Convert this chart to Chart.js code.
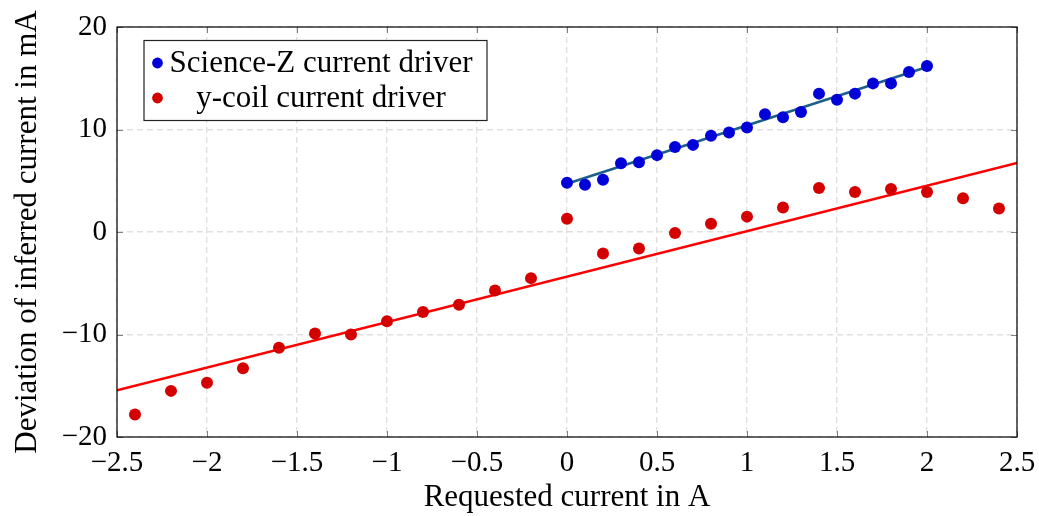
<!DOCTYPE html>
<html>
<head>
<meta charset="utf-8">
<script src="https://cdn.jsdelivr.net/npm/chart.js@4.4.1/dist/chart.umd.min.js"></script>
<style>
  html, body { margin: 0; padding: 0; background: #ffffff; }
  #wrap { width: 1039px; height: 516px; }
</style>
</head>
<body>
<div id="wrap"><canvas id="c" width="1039" height="516"></canvas></div>
<script>
// Tick positions
const xTicks = [-2.5, -2, -1.5, -1, -0.5, 0, 0.5, 1, 1.5, 2, 2.5];
const yTicks = [-20, -10, 0, 10, 20];

// Science-Z current driver: requested current (A) and deviation (mA)
const scienceZCurrent = [0, 0.1, 0.2, 0.3, 0.4, 0.5, 0.6, 0.7, 0.8, 0.9, 1.0,
                         1.1, 1.2, 1.3, 1.4, 1.5, 1.6, 1.7, 1.8, 1.9, 2.0];
const scienceZDeviation = [4.8, 4.6, 5.1, 6.7, 6.8, 7.5, 8.3, 8.5, 9.4, 9.7, 10.2,
                           11.5, 11.2, 11.7, 13.5, 12.9, 13.5, 14.5, 14.5, 15.6, 16.2];

// y-coil current driver: requested current (A) and deviation (mA)
const yCoilCurrent = [-2.4, -2.2, -2.0, -1.8, -1.6, -1.4, -1.2, -1.0, -0.8, -0.6, -0.4, -0.2,
                      0, 0.2, 0.4, 0.6, 0.8, 1.0, 1.2, 1.4, 1.6, 1.8, 2.0, 2.2, 2.4];
const yCoilDeviation = [-17.8, -15.5, -14.7, -13.3, -11.3, -9.9, -10.0, -8.7, -7.8, -7.1, -5.7, -4.5,
                        1.3, -2.1, -1.6, -0.1, 0.8, 1.5, 2.4, 4.3, 3.9, 4.2, 3.9, 3.3, 2.3];

// Linear fits (end points)
const scienceZFitCurrent = [0, 2];
const scienceZFitDeviation = [4.7, 16.1];
const yCoilFitCurrent = [-2.5, 2.5];
const yCoilFitDeviation = [-15.45, 6.73];

const seriesLabels = ['Science-Z current driver', 'y-coil current driver'];

const toPoints = (xs, ys) => xs.map((x, i) => ({ x: x, y: ys[i] }));
const fmt = v => String(v).replace('-', '\u2212');

const FONT = "'Liberation Serif', 'Times New Roman', serif";
Chart.defaults.font.family = FONT;
Chart.defaults.color = '#000000';

// Frame with inward ticks on all four sides, plus the legend box
const framePlugin = {
  id: 'frame',
  afterDatasetsDraw(chart) {
    const { ctx, chartArea: a, scales } = chart;
    const len = 6;
    ctx.save();
    ctx.strokeStyle = '#808080';
    ctx.lineWidth = 1;
    ctx.beginPath();
    xTicks.forEach(v => {
      const px = Math.round(scales.x.getPixelForValue(v)) + 0.5;
      ctx.moveTo(px, a.bottom); ctx.lineTo(px, a.bottom - len);
      ctx.moveTo(px, a.top); ctx.lineTo(px, a.top + len);
    });
    yTicks.forEach(v => {
      const py = Math.round(scales.y.getPixelForValue(v)) + 0.5;
      ctx.moveTo(a.left, py); ctx.lineTo(a.left + len, py);
      ctx.moveTo(a.right, py); ctx.lineTo(a.right - len, py);
    });
    ctx.stroke();
    ctx.strokeStyle = '#000000';
    ctx.lineWidth = 1.2;
    ctx.strokeRect(a.left, a.top, a.right - a.left, a.bottom - a.top);
    ctx.restore();
  },
  afterDraw(chart) {
    const { ctx, chartArea: a } = chart;
    const ds = chart.data.datasets;
    const bx = a.left + 27, by = a.top + 13.5, bw = 343, bh = 80;
    ctx.save();
    ctx.fillStyle = '#ffffff';
    ctx.fillRect(bx, by, bw, bh);
    ctx.strokeStyle = '#222222';
    ctx.lineWidth = 1.2;
    ctx.strokeRect(bx, by, bw, bh);
    ctx.font = '31px ' + FONT;
    ctx.textAlign = 'center';
    ctx.textBaseline = 'alphabetic';
    const rows = [{ d: ds[0], y: by + 22.5, ty: by + 31 }, { d: ds[1], y: by + 57.5, ty: by + 66.5 }];
    rows.forEach(r => {
      ctx.fillStyle = r.d.backgroundColor;
      ctx.beginPath();
      ctx.arc(bx + 13.5, r.y, 5.4, 0, Math.PI * 2);
      ctx.fill();
      ctx.fillStyle = '#000000';
      ctx.fillText(r.d.label, bx + 177, r.ty);
    });
    ctx.restore();
  }
};

new Chart(document.getElementById('c'), {
  type: 'scatter',
  plugins: [framePlugin],
  data: {
    datasets: [
      {
        label: seriesLabels[0],
        data: toPoints(scienceZCurrent, scienceZDeviation),
        backgroundColor: '#0000d8',
        borderColor: '#0000d8',
        pointRadius: 6,
        pointBorderWidth: 0,
        pointHoverRadius: 6,
        order: 0
      },
      {
        label: seriesLabels[1],
        data: toPoints(yCoilCurrent, yCoilDeviation),
        backgroundColor: '#d40000',
        borderColor: '#d40000',
        pointRadius: 6,
        pointBorderWidth: 0,
        pointHoverRadius: 6,
        order: 0
      },
      {
        label: 'Science-Z fit',
        data: toPoints(scienceZFitCurrent, scienceZFitDeviation),
        showLine: true,
        borderColor: '#1d5f8c',
        borderWidth: 2.6,
        pointRadius: 0,
        order: 1
      },
      {
        label: 'y-coil fit',
        data: toPoints(yCoilFitCurrent, yCoilFitDeviation),
        showLine: true,
        borderColor: '#ff0000',
        borderWidth: 2.6,
        pointRadius: 0,
        order: 1
      }
    ]
  },
  options: {
    responsive: false,
    animation: false,
    devicePixelRatio: 1,
    layout: { padding: { top: 27, right: 22, left: 0, bottom: 0 } },
    plugins: { legend: { display: false }, tooltip: { enabled: false } },
    scales: {
      x: {
        type: 'linear',
        min: -2.5, max: 2.5,
        afterBuildTicks: s => { s.ticks = xTicks.map(v => ({ value: v })); },
        afterFit: s => { s.height = 79; s.paddingLeft = 0; s.paddingRight = 0; },
        grid: { color: '#e0e0e0', lineWidth: 1.4, drawTicks: false },
        border: { display: false, dash: [6, 4] },
        ticks: { padding: 9, font: { size: 29 }, color: '#000000', callback: v => fmt(v) },
        title: {
          display: true, text: 'Requested current in A',
          font: { size: 31, lineHeight: 1.15 }, padding: { top: 0, bottom: 0 }, color: '#000000'
        }
      },
      y: {
        type: 'linear',
        min: -20, max: 20,
        afterBuildTicks: s => { s.ticks = yTicks.map(v => ({ value: v })); },
        afterFit: s => { s.width = 117; s.paddingTop = 0; s.paddingBottom = 0; },
        grid: { color: '#e0e0e0', lineWidth: 1.4, drawTicks: false },
        border: { display: false, dash: [6, 4] },
        ticks: { padding: 10, font: { size: 29 }, color: '#000000', callback: v => fmt(v) },
        title: {
          display: true, text: 'Deviation of inferred current in mA',
          font: { size: 31 }, padding: { top: 9, bottom: 0 }, color: '#000000'
        }
      }
    }
  }
});
</script>
</body>
</html>
